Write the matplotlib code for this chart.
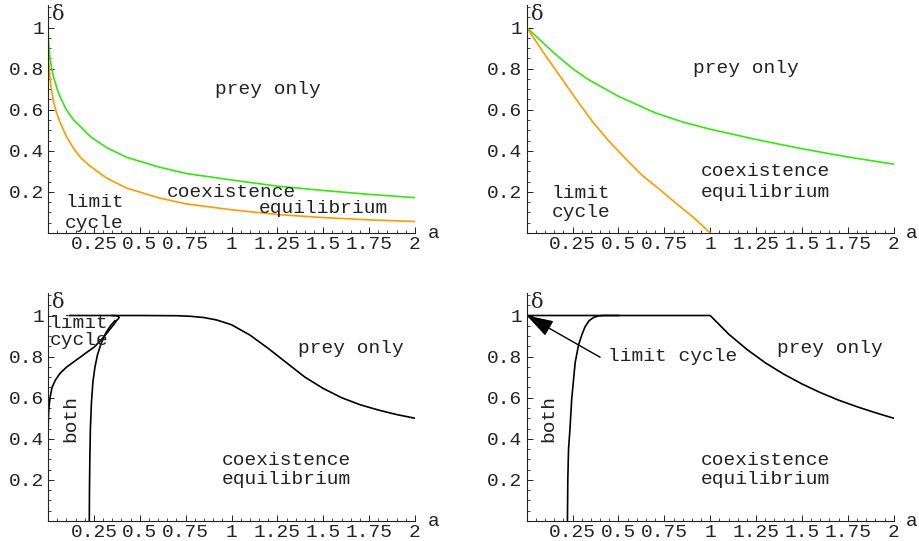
import matplotlib
matplotlib.use("Agg")
import matplotlib.pyplot as plt
from matplotlib.ticker import FixedLocator, MultipleLocator, FixedFormatter

# ---------------- data ----------------
# Top-left panel
tl_green_a = [0.0, 0.005, 0.01, 0.02, 0.03, 0.05, 0.07, 0.1, 0.14, 0.23, 0.32, 0.43, 0.6, 0.75, 1.0, 1.25, 1.5, 1.75, 2.0]
tl_green_d = [1.0, 0.9, 0.86, 0.8, 0.76, 0.7, 0.655, 0.6, 0.55, 0.47, 0.415, 0.368, 0.322, 0.29, 0.258, 0.228, 0.207, 0.188, 0.172]
tl_orange_a = [0.0, 0.005, 0.01, 0.015, 0.03, 0.045, 0.065, 0.1, 0.14, 0.18, 0.23, 0.32, 0.43, 0.6, 0.75, 1.0, 1.25, 1.5, 1.75, 2.0]
tl_orange_d = [0.9, 0.82, 0.77, 0.72, 0.64, 0.59, 0.54, 0.47, 0.41, 0.365, 0.325, 0.267, 0.218, 0.172, 0.142, 0.113, 0.09, 0.075, 0.064, 0.056]

# Top-right panel
tr_green_a = [0.0, 0.15, 0.25, 0.33, 0.5, 0.6, 0.7, 0.85, 1.0, 1.25, 1.5, 1.75, 2.0]
tr_green_d = [1.0, 0.875, 0.8, 0.75, 0.665, 0.625, 0.585, 0.54, 0.505, 0.455, 0.41, 0.37, 0.335]
tr_orange_a = [0.0, 0.09, 0.18, 0.27, 0.36, 0.45, 0.545, 0.63, 0.727, 0.82, 0.91, 1.0]
tr_orange_d = [1.0, 0.88, 0.765, 0.65, 0.54, 0.445, 0.356, 0.28, 0.21, 0.14, 0.075, 0.0]

# Bottom-left panel
bl_main_a = [0.116, 0.3, 0.5, 0.7, 0.78, 0.85, 0.92, 1.0, 1.1, 1.2, 1.3, 1.4, 1.5, 1.6, 1.7, 1.8, 1.9, 2.0]
bl_main_d = [1.0, 1.0, 1.0, 0.999, 0.996, 0.99, 0.978, 0.955, 0.905, 0.84, 0.77, 0.70, 0.645, 0.60, 0.566, 0.54, 0.518, 0.5]
bl_loop_a = [0.001, 0.003, 0.006, 0.012, 0.022, 0.04, 0.065, 0.1, 0.138, 0.18, 0.21, 0.25, 0.28, 0.31,
             0.335, 0.36, 0.375, 0.385, 0.388, 0.383, 0.37, 0.35]
bl_loop_d = [0.45, 0.52, 0.56, 0.605, 0.65, 0.685, 0.718, 0.748, 0.773, 0.8, 0.82, 0.845, 0.872, 0.902,
             0.93, 0.958, 0.977, 0.986, 0.991, 0.996, 0.999, 1.0]
bl_vert_a = [0.225, 0.226, 0.228, 0.231, 0.237, 0.245, 0.256, 0.27, 0.29, 0.315, 0.34, 0.365]
bl_vert_d = [0.0, 0.15, 0.3, 0.45, 0.58, 0.68, 0.75, 0.81, 0.865, 0.915, 0.95, 0.975]

# Bottom-right panel
br_main_a = [0.0, 1.0, 1.1, 1.2, 1.3, 1.4, 1.5, 1.6, 1.7, 1.8, 1.9, 2.0]
br_main_d = [1.0, 1.0, 0.91, 0.835, 0.77, 0.715, 0.667, 0.625, 0.588, 0.556, 0.527, 0.5]
br_vert_a = [0.222, 0.224, 0.228, 0.236, 0.245, 0.264, 0.282, 0.30, 0.318, 0.34, 0.364, 0.39, 0.42, 0.5]
br_vert_d = [0.0, 0.2, 0.35, 0.45, 0.59, 0.77, 0.855, 0.905, 0.945, 0.975, 0.99, 0.998, 1.0, 1.0]

x_ticks = [0.25, 0.5, 0.75, 1.0, 1.25, 1.5, 1.75, 2.0]
x_labels = ["0.25", "0.5", "0.75", "1", "1.25", "1.5", "1.75", "2"]
y_ticks = [0.2, 0.4, 0.6, 0.8, 1.0]
y_labels = ["0.2", "0.4", "0.6", "0.8", "1"]

GREEN = "#33e60f"
ORANGE = "#ff9a00"
MONO = "Liberation Mono"
FS = 14
TXT = "#222222"

fig = plt.figure(figsize=(9.19, 5.41), dpi=100)
W, H = 919.0, 541.0


def make_axes(x0, y0):
    # x0: pixel of a=0, y0: pixel of delta=0 (from top)
    ax = fig.add_axes([x0 / W, (H - y0) / H, 367.0 / W, 1.11 * 205.5 / H])
    ax.set_xlim(0, 2)
    ax.set_ylim(0, 1.11)
    for s in ("top", "right"):
        ax.spines[s].set_visible(False)
    for s in ("left", "bottom"):
        ax.spines[s].set_linewidth(0.8)
        ax.spines[s].set_color(TXT)
    ax.xaxis.set_major_locator(FixedLocator(x_ticks))
    ax.xaxis.set_major_formatter(FixedFormatter(x_labels))
    ax.yaxis.set_major_locator(FixedLocator(y_ticks))
    ax.yaxis.set_major_formatter(FixedFormatter(y_labels))
    ax.xaxis.set_minor_locator(MultipleLocator(0.05))
    ax.yaxis.set_minor_locator(MultipleLocator(0.05))
    ax.tick_params(which="major", direction="in", length=4, width=0.7, color=TXT)
    ax.tick_params(which="minor", direction="in", length=2.2, width=0.6, color=TXT)
    ax.tick_params(axis="x", which="major", pad=2)
    ax.tick_params(axis="y", which="major", pad=3)
    for lab in ax.get_xticklabels() + ax.get_yticklabels():
        lab.set_fontfamily(MONO)
        lab.set_fontsize(FS)
        lab.set_color(TXT)
    ax.text(2.1, 0.0, "a", fontfamily=MONO, fontsize=FS, ha="center", va="center",
            clip_on=False, color=TXT)
    ax.text(0.022, 1.065, "δ", fontfamily="DejaVu Serif", fontsize=15, ha="left", va="center",
            clip_on=False, color=TXT)
    return ax


def label(ax, x, y, s, ha="left", **kw):
    ax.text(x, y, s, fontfamily=MONO, fontsize=FS, ha=ha, va="baseline",
            color=TXT, **kw)


LW = 1.2

# Top-left
ax1 = make_axes(48, 233)
ax1.plot(tl_green_a, tl_green_d, color=GREEN, lw=LW)
ax1.plot(tl_orange_a, tl_orange_d, color=ORANGE, lw=LW)
label(ax1, 1.196, 0.676, "prey only", ha="center")
label(ax1, 0.997, 0.174, "coexistence", ha="center")
label(ax1, 1.50, 0.099, "equilibrium", ha="center")
label(ax1, 0.093, 0.125, "limit")
label(ax1, 0.093, 0.026, "cycle")

# Top-right
ax2 = make_axes(526.7, 233)
ax2.plot(tr_green_a, tr_green_d, color=GREEN, lw=LW)
ax2.plot(tr_orange_a, tr_orange_d, color=ORANGE, lw=LW)
label(ax2, 1.197, 0.779, "prey only", ha="center")
label(ax2, 1.30, 0.275, "coexistence", ha="center")
label(ax2, 1.30, 0.177, "equilibrium", ha="center")
label(ax2, 0.136, 0.17, "limit")
label(ax2, 0.136, 0.077, "cycle")

# Bottom-left
ax3 = make_axes(48, 521)
ax3.plot(bl_main_a, bl_main_d, color="black", lw=LW)
ax3.plot(bl_loop_a, bl_loop_d, color="black", lw=LW)
ax3.plot(bl_vert_a, bl_vert_d, color="black", lw=LW)
label(ax3, 1.649, 0.817, "prey only", ha="center")
label(ax3, 1.30, 0.272, "coexistence", ha="center")
label(ax3, 1.30, 0.178, "equilibrium", ha="center")
label(ax3, 0.007, 0.858, "limit\ncycle", linespacing=1.0)
ax3.text(0.122, 0.498, "both", fontfamily=MONO, fontsize=FS, rotation=90,
         ha="center", va="center", color=TXT)

# Bottom-right
ax4 = make_axes(526.7, 521)
ax4.plot(br_main_a, br_main_d, color="black", lw=LW)
ax4.plot(br_vert_a, br_vert_d, color="black", lw=LW)
label(ax4, 1.65, 0.817, "prey only", ha="center")
label(ax4, 1.30, 0.272, "coexistence", ha="center")
label(ax4, 1.30, 0.178, "equilibrium", ha="center")
label(ax4, 0.445, 0.778, "limit cycle")
ax4.text(0.12, 0.498, "both", fontfamily=MONO, fontsize=FS, rotation=90,
         ha="center", va="center", color=TXT)
ax4.annotate("", xy=(0.0, 1.0), xytext=(0.4, 0.797),
             arrowprops=dict(arrowstyle="-|>,head_length=1.1,head_width=0.35",
                             mutation_scale=15, color="black", lw=1.0,
                             shrinkA=0, shrinkB=0))

fig.savefig("out.png", dpi=100)
